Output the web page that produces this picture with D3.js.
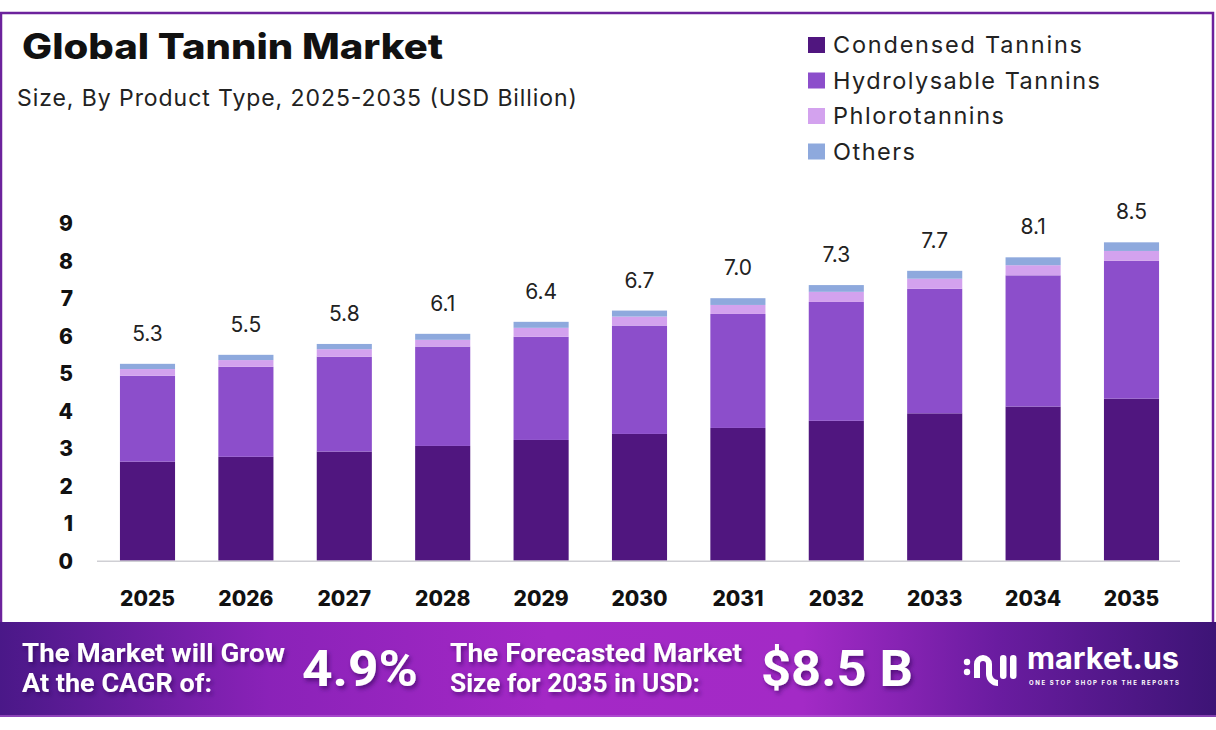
<!DOCTYPE html>
<html>
<head>
<meta charset="utf-8">
<script src="https://cdn.jsdelivr.net/npm/d3@7"></script>
<style>
  body { margin: 0; background: #fff; }
  svg { display: block; font-family: "Inter", "Open Sans", sans-serif; }
</style>
</head>
<body>
<div class="chart"></div>
<script>
// chart data
var years = ["2025", "2026", "2027", "2028", "2029", "2030", "2031", "2032", "2033", "2034", "2035"];
var condensed = [2.64, 2.77, 2.91, 3.06, 3.22, 3.38, 3.54, 3.73, 3.93, 4.11, 4.32];
var hydrolysable = [2.29, 2.40, 2.53, 2.65, 2.75, 2.89, 3.04, 3.17, 3.32, 3.50, 3.68];
var phlorotannins = [0.18, 0.18, 0.20, 0.18, 0.24, 0.24, 0.24, 0.27, 0.27, 0.27, 0.26];
var others = [0.14, 0.14, 0.14, 0.16, 0.16, 0.16, 0.18, 0.18, 0.21, 0.21, 0.23];
var totalLabels = ["5.3", "5.5", "5.8", "6.1", "6.4", "6.7", "7.0", "7.3", "7.7", "8.1", "8.5"];
var seriesNames = ["Condensed Tannins", "Hydrolysable Tannins", "Phlorotannins", "Others"];
var yTicks = [0, 1, 2, 3, 4, 5, 6, 7, 8, 9];

var colors = ["#50167f", "#8c4ecb", "#d3a2ee", "#8ea9dd"];
// widths the legend texts take in the reference
var legendWidths = [249, 267, 171, 82];

var svgWidth = 1216;
var svgHeight = 730;

var svg = d3.select(".chart")
  .append("svg")
  .attr("width", svgWidth)
  .attr("height", svgHeight);

var defs = svg.append("defs");
var grad = defs.append("linearGradient").attr("id", "bannerGrad")
  .attr("x1", "0%").attr("x2", "100%").attr("y1", "0%").attr("y2", "0%");
grad.append("stop").attr("offset", "0%").attr("stop-color", "#4a1888");
grad.append("stop").attr("offset", "22%").attr("stop-color", "#8a22b8");
grad.append("stop").attr("offset", "45%").attr("stop-color", "#a428c6");
grad.append("stop").attr("offset", "66%").attr("stop-color", "#a32ac6");
grad.append("stop").attr("offset", "82%").attr("stop-color", "#6a1ca0");
grad.append("stop").attr("offset", "100%").attr("stop-color", "#3d1476");

var shadow = defs.append("filter").attr("id", "txtShadow")
  .attr("x", "-20%").attr("y", "-20%").attr("width", "140%").attr("height", "150%");
shadow.append("feDropShadow").attr("dx", 2).attr("dy", 3).attr("stdDeviation", 2)
  .attr("flood-color", "#2a0650").attr("flood-opacity", 0.55);

// frame
svg.append("rect")
  .attr("x", 1).attr("y", 13)
  .attr("width", 1212).attr("height", 640)
  .attr("fill", "none")
  .attr("stroke", "#6c229c")
  .attr("stroke-width", 2.5);

// title
svg.append("text")
  .attr("x", 22).attr("y", 59)
  .attr("font-size", 35).attr("font-weight", 800)
  .attr("fill", "#111")
  .attr("textLength", 421).attr("lengthAdjust", "spacingAndGlyphs")
  .text("Global Tannin  Market");

svg.append("text")
  .attr("x", 17).attr("y", 106)
  .attr("font-size", 23)
  .attr("fill", "#222")
  .attr("textLength", 560).attr("lengthAdjust", "spacing")
  .text("Size, By Product Type, 2025-2035 (USD Billion)");

// legend
var legend = svg.append("g");
seriesNames.forEach(function(name, i) {
  var row = legend.append("g").attr("transform", `translate(808, ${37 + i * 35.5})`);
  row.append("rect").attr("width", 17).attr("height", 16).attr("fill", colors[i]);
  row.append("text").attr("x", 25).attr("y", 16)
    .attr("font-size", 23.5).attr("fill", "#222")
    .attr("textLength", legendWidths[i]).attr("lengthAdjust", "spacing")
    .text(name);
});

// scales
var xScale = d3.scaleBand()
  .domain(years)
  .range([98.3, 1180.7])
  .paddingInner(0.44)
  .paddingOuter(0.22);

var yScale = d3.scaleLinear()
  .domain([0, 9])
  .range([560.7, 223.2]);

// stack
var rows = years.map(function(y, i) {
  return {
    year: y,
    "Condensed Tannins": condensed[i],
    "Hydrolysable Tannins": hydrolysable[i],
    "Phlorotannins": phlorotannins[i],
    "Others": others[i],
    label: totalLabels[i]
  };
});
var stacked = d3.stack().keys(seriesNames)(rows);

var chartGroup = svg.append("g");

chartGroup.selectAll("g.series")
  .data(stacked)
  .enter()
  .append("g")
  .attr("class", "series")
  .attr("fill", (d, i) => colors[i])
  .selectAll("rect")
  .data(d => d)
  .enter()
  .append("rect")
  .attr("x", d => xScale(d.data.year))
  .attr("width", xScale.bandwidth())
  .attr("y", d => yScale(d[1]))
  .attr("height", d => yScale(d[0]) - yScale(d[1]));

// baseline
chartGroup.append("line")
  .attr("x1", 97).attr("x2", 1180)
  .attr("y1", yScale(0) + 0.5).attr("y2", yScale(0) + 0.5)
  .attr("stroke", "#cfcfd4").attr("stroke-width", 1.5);

// total labels
var topSeries = stacked[stacked.length - 1];
chartGroup.selectAll("text.total")
  .data(topSeries)
  .enter()
  .append("text")
  .attr("class", "total")
  .attr("x", d => xScale(d.data.year) + xScale.bandwidth() / 2)
  .attr("y", d => yScale(d[1]) - 23)
  .attr("text-anchor", "middle")
  .attr("font-size", 21)
  .attr("fill", "#222")
  .text(d => d.data.label);

// axes
var leftAxis = d3.axisLeft(yScale).tickValues(yTicks).tickSize(0).tickFormat(d3.format("d"));
var yAxisG = svg.append("g")
  .attr("transform", "translate(73, 0)")
  .call(leftAxis);
yAxisG.select(".domain").remove();
yAxisG.selectAll("text")
  .attr("x", 0).attr("dy", "0.36em")
  .attr("text-anchor", "end")
  .attr("font-family", "Inter, sans-serif")
  .attr("font-size", 21).attr("font-weight", 800).attr("fill", "#111");

var bottomAxis = d3.axisBottom(xScale).tickSize(0);
var xAxisG = svg.append("g")
  .attr("transform", "translate(0, 588)")
  .call(bottomAxis);
xAxisG.select(".domain").remove();
xAxisG.selectAll("text")
  .attr("font-family", "Inter, sans-serif")
  .attr("font-size", 21).attr("font-weight", 800).attr("fill", "#111");

// bottom banner
var banner = svg.append("g");
banner.append("rect")
  .attr("x", 0).attr("y", 622)
  .attr("width", 1216).attr("height", 95)
  .attr("fill", "url(#bannerGrad)");
banner.append("rect")
  .attr("x", 0).attr("y", 715)
  .attr("width", 1216).attr("height", 2)
  .attr("fill", "#b45fd6").attr("opacity", 0.6);

var bannerFont = "Roboto, 'Open Sans', sans-serif";
function bannerText(x, y, size, txt, w) {
  return banner.append("text")
    .attr("x", x).attr("y", y)
    .attr("font-family", bannerFont)
    .attr("font-size", size).attr("font-weight", 700)
    .attr("fill", "#fff")
    .attr("filter", "url(#txtShadow)")
    .attr("textLength", w).attr("lengthAdjust", "spacingAndGlyphs")
    .text(txt);
}
bannerText(22, 662, 25, "The Market will Grow", 263);
bannerText(22, 692, 25, "At the CAGR of:", 190);
bannerText(302, 686, 50, "4.9%", 116);
bannerText(450, 662, 25, "The Forecasted Market", 292);
bannerText(450, 692, 25, "Size for 2035 in USD:", 250);
bannerText(761, 686, 50, "$8.5 B", 152);

// market.us logo
var logo = banner.append("g").attr("transform", "translate(963, 648)").attr("fill", "#fff");
logo.append("circle").attr("cx", 4).attr("cy", 14).attr("r", 3.2);
logo.append("circle").attr("cx", 4).attr("cy", 24).attr("r", 3.2);
logo.append("path")
  .attr("d", "M11,30 L11,16 A9,9 0 0 1 29,16 L29,26 A6,6 0 0 0 35,32 L35,38 A12,12 0 0 1 23,26 L23,16 A3,3 0 0 0 17,16 L17,30 Z");
logo.append("rect").attr("x", 37).attr("y", 7).attr("width", 6.5).attr("height", 24).attr("rx", 3.2);
logo.append("rect").attr("x", 47).attr("y", 7).attr("width", 6.5).attr("height", 24).attr("rx", 3.2);
banner.append("text")
  .attr("x", 1027).attr("y", 669)
  .attr("font-family", "Inter, sans-serif")
  .attr("font-size", 30).attr("font-weight", 700)
  .attr("fill", "#fff")
  .attr("textLength", 152).attr("lengthAdjust", "spacingAndGlyphs")
  .text("market.us");
banner.append("text")
  .attr("x", 1029).attr("y", 685)
  .attr("font-family", "Inter, sans-serif")
  .attr("font-size", 6).attr("font-weight", 700)
  .attr("fill", "#fff")
  .attr("textLength", 150).attr("lengthAdjust", "spacing")
  .text("ONE STOP SHOP FOR THE REPORTS");
</script>
</body>
</html>
